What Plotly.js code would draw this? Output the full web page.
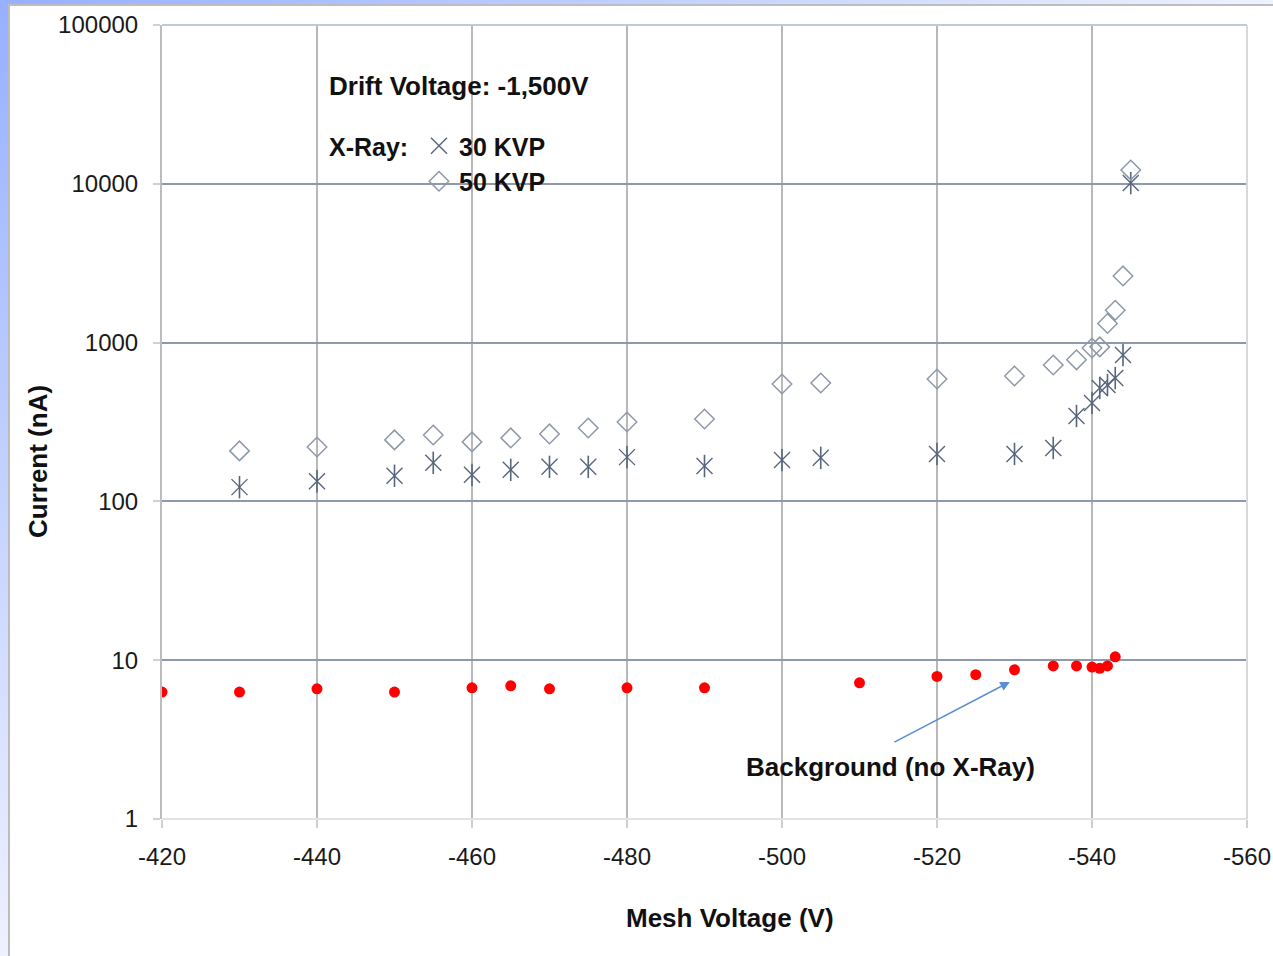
<!DOCTYPE html>
<html>
<head>
<meta charset="utf-8">
<script src="https://cdn.plot.ly/plotly-3.0.1.min.js"></script>
<style>
  html, body { margin: 0; padding: 0; background: #ffffff; }
  #wrap { position: relative; width: 1273px; height: 956px; overflow: hidden; background: #ffffff; }
  #topbar { position: absolute; left: 0; top: 0; width: 1273px; height: 4px;
            background: linear-gradient(to right, #97b0ff, #c9d6ff 60%, #eef2ff); }
  #topline { position: absolute; left: 8px; top: 4px; width: 1265px; height: 2px; background: #bdbdbd; }
  #leftbar { position: absolute; left: 0; top: 0; width: 8px; height: 956px;
             background: linear-gradient(to bottom, #97b0ff, #c3d1ff 50%, #eef1ff); }
  #leftline { position: absolute; left: 8px; top: 4px; width: 2px; height: 952px; background: #bdbdbd; }
  #chart { position: absolute; left: 0; top: 0; width: 1273px; height: 956px; }
</style>
</head>
<body>
<div id="wrap">
  <div id="topbar"></div>
  <div id="leftbar"></div>
  <div id="topline"></div>
  <div id="leftline"></div>
  <div id="chart"></div>
</div>
<script>
// ---- Data ----
const meshV30 = [-430,-440,-450,-455,-460,-465,-470,-475,-480,-490,-500,-505,-520,-530,-535,-538,-540,-541,-542,-543,-544,-545];
const current30 = [123,134,145,175,147,158,165,165,190,167,182,188,199,199,217,345,417,518,541,598,835,10100];

const meshV50 = [-430,-440,-450,-455,-460,-465,-470,-475,-480,-490,-500,-505,-520,-530,-535,-538,-540,-541,-542,-543,-544,-545];
const current50 = [208,220,244,262,237,251,266,290,316,330,549,557,590,616,723,779,925,940,1320,1600,2630,12200];

const meshVbg = [-420,-430,-440,-450,-460,-465,-470,-480,-490,-510,-520,-525,-530,-535,-538,-540,-541,-542,-543];
const currentBg = [6.3,6.3,6.6,6.3,6.7,6.9,6.6,6.7,6.7,7.2,7.9,8.1,8.7,9.2,9.2,9.05,8.9,9.2,10.5];

const xTickVals = [-420,-440,-460,-480,-500,-520,-540,-560];
const xTickText = ['-420','-440','-460','-480','-500','-520','-540','-560'];
const yTickVals = [1,10,100,1000,10000,100000];
const yTickText = ['1','10','100','1000','10000','100000'];

const seriesNames = ['30 KVP','50 KVP','Background (no X-Ray)'];

// ---- Traces ----
const FONT = 'Liberation Sans, Arial, sans-serif';
const astColor = '#56647c';

const traces = [
  { type:'scatter', mode:'markers', x: meshV30, y: current30, name: seriesNames[0],
    legendgroup:'g30', showlegend:true,
    marker:{ symbol:'x-thin-open', size:16, color: astColor, line:{ color: astColor, width:1.4 } } },
  { type:'scatter', mode:'markers', x: meshV30, y: current30, name: seriesNames[0],
    legendgroup:'g30', showlegend:false,
    marker:{ symbol:'line-ns-open', size:16, color: astColor, line:{ color: astColor, width:1.6 } } },
  { type:'scatter', mode:'markers', x: meshV50, y: current50, name: seriesNames[1],
    legendgroup:'g50', showlegend:true,
    marker:{ symbol:'diamond-open', size:15, color:'#8e98a8', line:{ color:'#8e98a8', width:1.5 } } },
  { type:'scatter', mode:'markers', x: meshVbg, y: currentBg, name: seriesNames[2],
    showlegend:false,
    marker:{ symbol:'circle', size:11, color:'#ff0000', line:{ width:0 } } }
];

// plot area in pixels: x 162..1247, y 25..819
const L = 162, R = 1247, T = 25, B = 819;
const px = v => (v - L) / (R - L);
const py = v => (B - v) / (B - T);

const layout = {
  width: 1273, height: 956,
  margin: { l: L, r: 1273 - R, t: T, b: 956 - B, pad: 0 },
  paper_bgcolor: 'rgba(0,0,0,0)',
  plot_bgcolor: '#ffffff',
  font: { family: FONT, color: '#1a1a1a' },
  showlegend: true,
  legend: {
    x: px(419), y: py(123), xanchor:'left', yanchor:'top',
    bgcolor:'rgba(0,0,0,0)', borderwidth:0,
    font: { family: FONT, size: 25, weight: 'bold', color:'#111111' },
    traceorder:'normal', itemwidth:30, tracegroupgap: 0
  },
  xaxis: {
    range: [-420, -560], type:'linear',
    tickvals: xTickVals, ticktext: xTickText,
    tickfont: { family: FONT, size: 24, color:'#1a1a1a' },
    showgrid: true, gridcolor:'#b8b8b8', gridwidth: 2,
    zeroline: false, showline: false,
    ticks:'outside', ticklen: 8, tickcolor:'#cfcfcf', tickwidth: 2,
    ticklabelstandoff: 8,
    layer:'below traces', fixedrange: true
  },
  yaxis: {
    type:'log', range: [0, 5],
    tickvals: yTickVals, ticktext: yTickText,
    tickfont: { family: FONT, size: 24, color:'#1a1a1a' },
    showgrid: true, gridcolor:'#8d9aae', gridwidth: 2,
    zeroline: false, showline: true, linecolor:'#bdbdbd', linewidth: 2,
    ticks:'outside', ticklen: 7, tickcolor:'#d0d0d0', tickwidth: 2,
    ticklabelstandoff: 10,
    layer:'below traces', fixedrange: true
  },
  shapes: [
    { type:'line', xref:'paper', yref:'paper', x0:0, x1:1, y0:1, y1:1, layer:'above',
      line:{ color:'#c0c9d4', width:2 } },
    { type:'line', xref:'paper', yref:'paper', x0:0, x1:1, y0:0, y1:0, layer:'above',
      line:{ color:'#e2e2e2', width:2 } },
    { type:'line', xref:'paper', yref:'paper', x0:1, x1:1, y0:0, y1:1, layer:'above',
      line:{ color:'#d8d8d8', width:2 } }
  ],
  annotations: [
    { xref:'paper', yref:'paper', x: px(38), y: py(462), text:'Current (nA)', textangle:-90,
      showarrow:false, xanchor:'center', yanchor:'middle',
      font:{ family: FONT, size: 26, weight:'bold', color:'#111111' } },
    { xref:'paper', yref:'paper', x: px(730), y: py(918), text:'Mesh Voltage (V)',
      showarrow:false, xanchor:'center', yanchor:'middle',
      font:{ family: FONT, size: 26, weight:'bold', color:'#111111' } },
    { xref:'paper', yref:'paper', x: px(327), y: py(86), text:'Drift Voltage: -1,500V',
      showarrow:false, xanchor:'left', yanchor:'middle',
      font:{ family: FONT, size: 26, weight:'bold', color:'#111111' } },
    { xref:'paper', yref:'paper', x: px(327), y: py(147), text:'X-Ray:',
      showarrow:false, xanchor:'left', yanchor:'middle',
      font:{ family: FONT, size: 25, weight:'bold', color:'#111111' } },
    { xref:'paper', yref:'paper', x: px(890), y: py(767), text:'Background (no X-Ray)',
      showarrow:false, xanchor:'center', yanchor:'middle',
      font:{ family: FONT, size: 26, weight:'bold', color:'#111111' } },
    { xref:'x', yref:'y', x: -529.4, y: Math.log10(7.3), text:'', showarrow:true,
      axref:'pixel', ayref:'pixel', ax: -117, ay: 61,
      arrowhead: 2, arrowsize: 1.2, arrowwidth: 1.6, arrowcolor:'#5b8fd3', standoff: 0 }
  ]
};

Plotly.newPlot('chart', traces, layout, { displayModeBar:false, staticPlot:true });
</script>
</body>
</html>
